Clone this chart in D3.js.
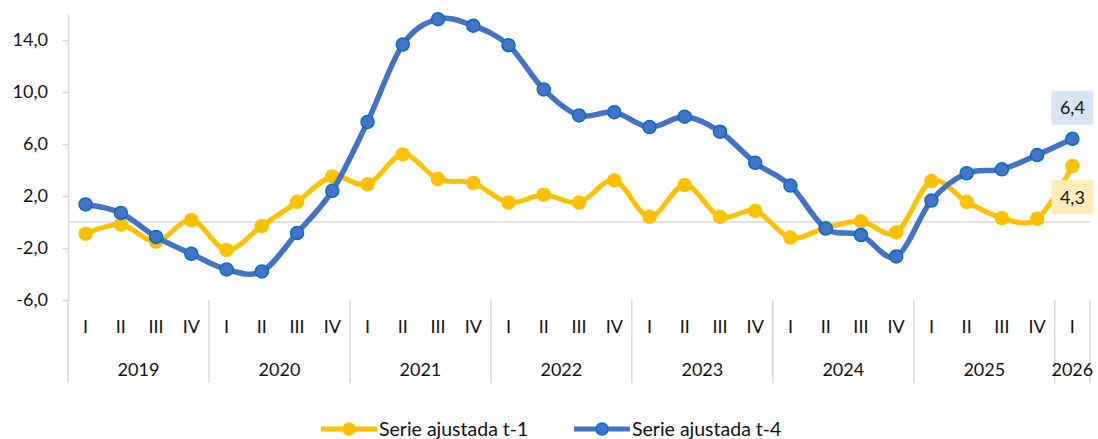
<!DOCTYPE html>
<html>
<head>
<meta charset="utf-8">
<script src="https://cdn.jsdelivr.net/npm/d3@7"></script>
<style>
  body { margin:0; background:#fff; }
  text { font-family: Lato, "Open Sans", sans-serif; fill:#111; }
</style>
</head>
<body>
<script>
// data
var quarters = ["I","II","III","IV","I","II","III","IV","I","II","III","IV","I","II","III","IV",
                "I","II","III","IV","I","II","III","IV","I","II","III","IV","I"];
var years = ["2019","2020","2021","2022","2023","2024","2025","2026"];
var serieT1 = [-0.9,-0.2,-1.5,0.15,-2.15,-0.3,1.55,3.5,2.9,5.2,3.3,3.0,1.5,2.1,1.5,3.2,
               0.4,2.85,0.4,0.85,-1.2,-0.45,0.05,-0.8,3.15,1.55,0.3,0.25,4.3];
var serieT4 = [1.35,0.7,-1.15,-2.45,-3.65,-3.8,-0.85,2.4,7.7,13.65,15.6,15.1,13.6,10.2,8.2,8.45,
               7.3,8.1,6.95,4.55,2.8,-0.5,-1.0,-2.65,1.65,3.75,4.05,5.15,6.4];
var yTicks = [-6,-2,2,6,10,14];
var legendNames = ["Serie ajustada t-1","Serie ajustada t-4"];

var W = 1098, H = 439;
var margin = {top:14, bottom:300, left:68, right:1090}; // plot edges in px
var fs = "18px";

var svg = d3.select("body").append("svg")
    .attr("width", W)
    .attr("height", H);

// scales
var x = d3.scaleBand()
    .domain(d3.range(quarters.length))
    .range([margin.left, margin.right]);
var step = x.step();
var cx = function(i){ return x(i) + step/2; };

var y = d3.scaleLinear()
    .domain([-6,16])
    .range([margin.bottom, margin.top]);

var fmt = function(d){ return d.toFixed(1).replace(".", ","); };

// y axis
var yAxis = d3.axisLeft(y)
    .tickValues(yTicks)
    .tickFormat(fmt)
    .tickSize(6)
    .tickSizeOuter(0)
    .tickPadding(14);

var gy = svg.append("g")
    .attr("transform","translate(" + margin.left + ",0)")
    .call(yAxis);
gy.select(".domain").attr("stroke","#d9d9d9").attr("stroke-width",1.5);
gy.selectAll(".tick line").attr("stroke","#d9d9d9").attr("stroke-width",1.5);
gy.selectAll(".tick text").style("font-size",fs).attr("fill","#111");

// zero line
svg.append("line")
    .attr("x1", margin.left).attr("x2", margin.right)
    .attr("y1", y(0)).attr("y2", y(0))
    .attr("stroke","#d9d9d9").attr("stroke-width",1.5);

// category axis: quarters
var gx = svg.append("g")
    .attr("transform","translate(0," + margin.bottom + ")")
    .call(d3.axisBottom(x).tickSize(0).tickPadding(20).tickFormat(function(i){ return quarters[i]; }));
gx.select(".domain").remove();
gx.selectAll(".tick text").style("font-size",fs).attr("fill","#111");

// year groups
var yearStart = [];
quarters.forEach(function(q,i){ if (q === "I") yearStart.push(i); });
var seps = yearStart.map(function(i){ return x(i); }).concat([margin.right]);

svg.append("g").selectAll("line")
    .data(seps)
    .enter()
    .append("line")
      .attr("x1", function(d){ return d; })
      .attr("x2", function(d){ return d; })
      .attr("y1", margin.bottom)
      .attr("y2", 383)
      .attr("stroke","#d9d9d9")
      .attr("stroke-width",1.5);

svg.append("g").selectAll("text")
    .data(years)
    .enter()
    .append("text")
      .attr("x", function(d,i){ return (seps[i] + seps[i+1]) / 2; })
      .attr("y", 376)
      .attr("text-anchor","middle")
      .style("font-size",fs)
      .text(function(d){ return d; });

// lines
var line = d3.line()
    .x(function(d,i){ return cx(i); })
    .y(function(d){ return y(d); })
    .curve(d3.curveCatmullRom.alpha(0));

var series = [
  {name: legendNames[0], values: serieT1, color:"#ffc000", stroke:"#ffc000", r:6.5, w:5},
  {name: legendNames[1], values: serieT4, color:"#4472c4", stroke:"#0070c0", r:6.5, w:5.5}
];

series.forEach(function(s){
  var g = svg.append("g");
  g.append("path")
      .datum(s.values)
      .attr("d", line)
      .attr("fill","none")
      .attr("stroke", s.color)
      .attr("stroke-width", s.w)
      .attr("stroke-linejoin","round");
  g.selectAll("circle")
      .data(s.values)
      .enter()
      .append("circle")
        .attr("cx", function(d,i){ return cx(i); })
        .attr("cy", function(d){ return y(d); })
        .attr("r", s.r)
        .attr("fill", s.color)
        .attr("stroke", s.stroke)
        .attr("stroke-width", 1.5);
});

// end labels
var last = quarters.length - 1;
var labels = [
  {v: serieT4[last], fill:"#dae3f3", dy: -31},
  {v: serieT1[last], fill:"#ffecb8", dy: 31}
];
labels.forEach(function(l){
  var bx = cx(last), by = y(l.v) + l.dy;
  svg.append("rect")
      .attr("x", bx - 21).attr("y", by - 17)
      .attr("width", 42).attr("height", 34)
      .attr("fill", l.fill);
  svg.append("text")
      .attr("x", bx).attr("y", by + 6.5)
      .attr("text-anchor","middle")
      .style("font-size",fs)
      .text(fmt(l.v));
});

// legend
var legend = svg.append("g").attr("transform","translate(0,429)");
var legX = [321, 574];
series.forEach(function(s,i){
  var lg = legend.append("g").attr("transform","translate(" + legX[i] + ",0)");
  lg.append("line")
      .attr("x1",0).attr("x2",56)
      .attr("stroke", s.color).attr("stroke-width",5);
  lg.append("circle")
      .attr("cx",28).attr("r",6)
      .attr("fill", s.color).attr("stroke", s.stroke).attr("stroke-width",1.5);
  lg.append("text")
      .attr("x",58).attr("y",7)
      .style("font-size","19.5px")
      .text(s.name);
});
</script>
</body>
</html>
